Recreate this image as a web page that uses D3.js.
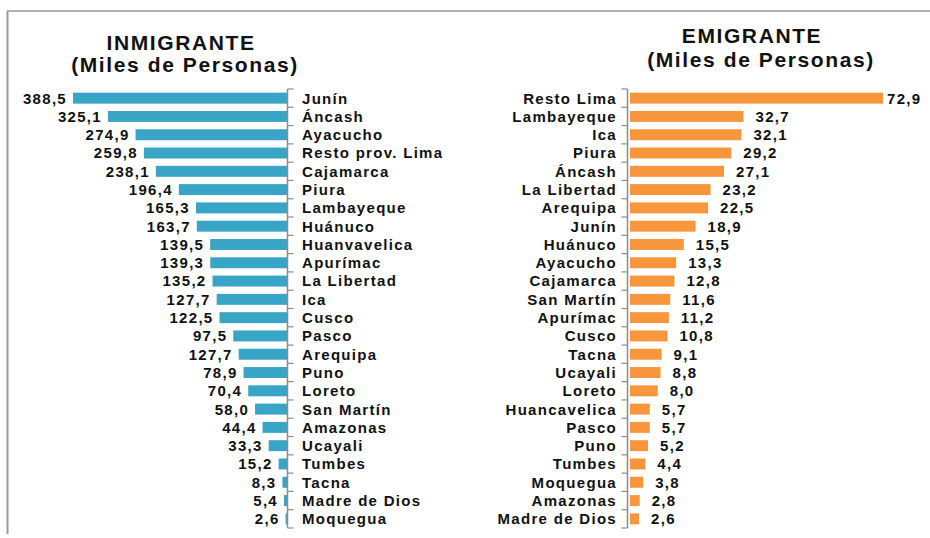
<!DOCTYPE html>
<html>
<head>
<meta charset="utf-8">
<script src="https://cdn.jsdelivr.net/npm/d3@7"></script>
<style>
  html, body { margin: 0; padding: 0; background: #fff; }
  svg { display: block; font-family: "Liberation Sans", Arial, sans-serif; }
  .lbl { font-weight: bold; font-size: 15px; letter-spacing: 1.3px; fill: #111; }
  .title { font-weight: bold; font-size: 21px; letter-spacing: 1.6px; fill: #111; }
</style>
</head>
<body>
<div id="chart"></div>
<script>
// Inmigrantes por departamento (miles de personas)
const inmigranteDeptos = ['Junín', 'Áncash', 'Ayacucho', 'Resto prov. Lima', 'Cajamarca', 'Piura',
  'Lambayeque', 'Huánuco', 'Huanvavelica', 'Apurímac', 'La Libertad', 'Ica', 'Cusco', 'Pasco',
  'Arequipa', 'Puno', 'Loreto', 'San Martín', 'Amazonas', 'Ucayali', 'Tumbes', 'Tacna',
  'Madre de Dios', 'Moquegua'];
// bar lengths as drawn (Arequipa's bar is drawn near 88 although its label reads 127,7)
const inmigranteValores = [388.5, 325.1, 274.9, 259.8, 238.1, 196.4, 165.3, 163.7, 139.5, 139.3,
  135.2, 127.7, 122.5, 97.5, 87.7, 78.9, 70.4, 58.0, 44.4, 33.3, 15.2, 8.3, 5.4, 2.6];
const inmigranteEtiquetas = ['388,5', '325,1', '274,9', '259,8', '238,1', '196,4', '165,3', '163,7',
  '139,5', '139,3', '135,2', '127,7', '122,5', '97,5', '127,7', '78,9', '70,4', '58,0', '44,4',
  '33,3', '15,2', '8,3', '5,4', '2,6'];

// Emigrantes por departamento (miles de personas)
const emigranteDeptos = ['Resto Lima', 'Lambayeque', 'Ica', 'Piura', 'Áncash', 'La Libertad',
  'Arequipa', 'Junín', 'Huánuco', 'Ayacucho', 'Cajamarca', 'San Martín', 'Apurímac', 'Cusco',
  'Tacna', 'Ucayali', 'Loreto', 'Huancavelica', 'Pasco', 'Puno', 'Tumbes', 'Moquegua',
  'Amazonas', 'Madre de Dios'];
const emigranteValores = [72.9, 32.7, 32.1, 29.2, 27.1, 23.2, 22.5, 18.9, 15.5, 13.3, 12.8, 11.6,
  11.2, 10.8, 9.1, 8.8, 8.0, 5.7, 5.7, 5.2, 4.4, 3.8, 2.8, 2.6];

const width = 930, height = 538;
const fmt = v => d3.format('.1f')(v).replace('.', ',');

const svg = d3.select('#chart').append('svg')
  .attr('width', width).attr('height', height);

// thin frame at the top and left edge
svg.append('line').attr('x1', 7).attr('x2', width).attr('y1', 11).attr('y2', 11)
  .attr('stroke', '#9a9a9a').attr('stroke-width', 1.5);
svg.append('line').attr('x1', 7.5).attr('x2', 7.5).attr('y1', 11).attr('y2', 534)
  .attr('stroke', '#9a9a9a').attr('stroke-width', 2);

// ---------- left panel: inmigrantes ----------
const yL = d3.scaleBand().domain(inmigranteDeptos).range([89, 528])
  .paddingInner(0.4).paddingOuter(0.2);
const xL = d3.scaleLinear().domain([0, 388.5]).range([287, 73]);
const left = svg.append('g');

left.append('text').attr('class', 'title').attr('x', 181).attr('y', 50)
  .attr('text-anchor', 'middle').text('INMIGRANTE');
left.append('text').attr('class', 'title').attr('x', 185).attr('y', 72)
  .attr('text-anchor', 'middle').text('(Miles de Personas)');

const rowsL = inmigranteDeptos.map((d, i) => ({dep: d, v: inmigranteValores[i], lab: inmigranteEtiquetas[i]}));

left.selectAll('rect').data(rowsL).join('rect')
  .attr('x', d => xL(d.v)).attr('width', d => xL(0) - xL(d.v))
  .attr('y', d => yL(d.dep)).attr('height', yL.bandwidth())
  .attr('fill', '#38a5c6');

left.selectAll('text.val').data(rowsL).join('text')
  .attr('class', 'lbl val')
  .attr('x', d => xL(d.v) - 6).attr('y', d => yL(d.dep) + yL.bandwidth() / 2)
  .attr('dy', '0.36em').attr('text-anchor', 'end').text(d => d.lab);

left.selectAll('text.cat').data(rowsL).join('text')
  .attr('class', 'lbl cat')
  .attr('x', 302).attr('y', d => yL(d.dep) + yL.bandwidth() / 2)
  .attr('dy', '0.36em').text(d => d.dep);

// axis bracket with ticks at band boundaries
function bracket(g, y, x0, dir) {
  const step = y.step();
  const bounds = y.domain().map(d => y(d) - step * y.paddingInner() / 2);
  bounds[0] = y.range()[0];
  bounds.push(y.range()[1]);
  g.append('line').attr('x1', x0).attr('x2', x0)
    .attr('y1', y.range()[0]).attr('y2', y.range()[1])
    .attr('stroke', '#8c8c8c').attr('stroke-width', 1.5);
  g.selectAll('line.tick').data(bounds).join('line')
    .attr('class', 'tick')
    .attr('x1', x0).attr('x2', x0 + dir * 6)
    .attr('y1', d => d).attr('y2', d => d)
    .attr('stroke', '#8c8c8c').attr('stroke-width', 1.2);
}
bracket(left.append('g'), yL, 287.5, 1);

// ---------- right panel: emigrantes ----------
const yR = d3.scaleBand().domain(emigranteDeptos).range([89, 528])
  .paddingInner(0.4).paddingOuter(0.2);
const xR = d3.scaleLinear().domain([0, 72.9]).range([630, 883]);
const right = svg.append('g');

right.append('text').attr('class', 'title').attr('x', 752).attr('y', 43)
  .attr('text-anchor', 'middle').text('EMIGRANTE');
right.append('text').attr('class', 'title').attr('x', 761).attr('y', 67)
  .attr('text-anchor', 'middle').text('(Miles de Personas)');

const rowsR = emigranteDeptos.map((d, i) => ({dep: d, v: emigranteValores[i]}));

right.selectAll('rect').data(rowsR).join('rect')
  .attr('x', xR(0)).attr('width', d => xR(d.v) - xR(0))
  .attr('y', d => yR(d.dep)).attr('height', yR.bandwidth())
  .attr('fill', '#f7963c');

right.selectAll('text.val').data(rowsR).join('text')
  .attr('class', 'lbl val')
  .attr('x', d => Math.min(xR(d.v) + 12, 887)).attr('y', d => yR(d.dep) + yR.bandwidth() / 2)
  .attr('dy', '0.36em').text(d => fmt(d.v));

right.selectAll('text.cat').data(rowsR).join('text')
  .attr('class', 'lbl cat')
  .attr('x', 617).attr('y', d => yR(d.dep) + yR.bandwidth() / 2)
  .attr('dy', '0.36em').attr('text-anchor', 'end').text(d => d.dep);

bracket(right.append('g'), yR, 627.5, -1);
</script>
</body>
</html>
